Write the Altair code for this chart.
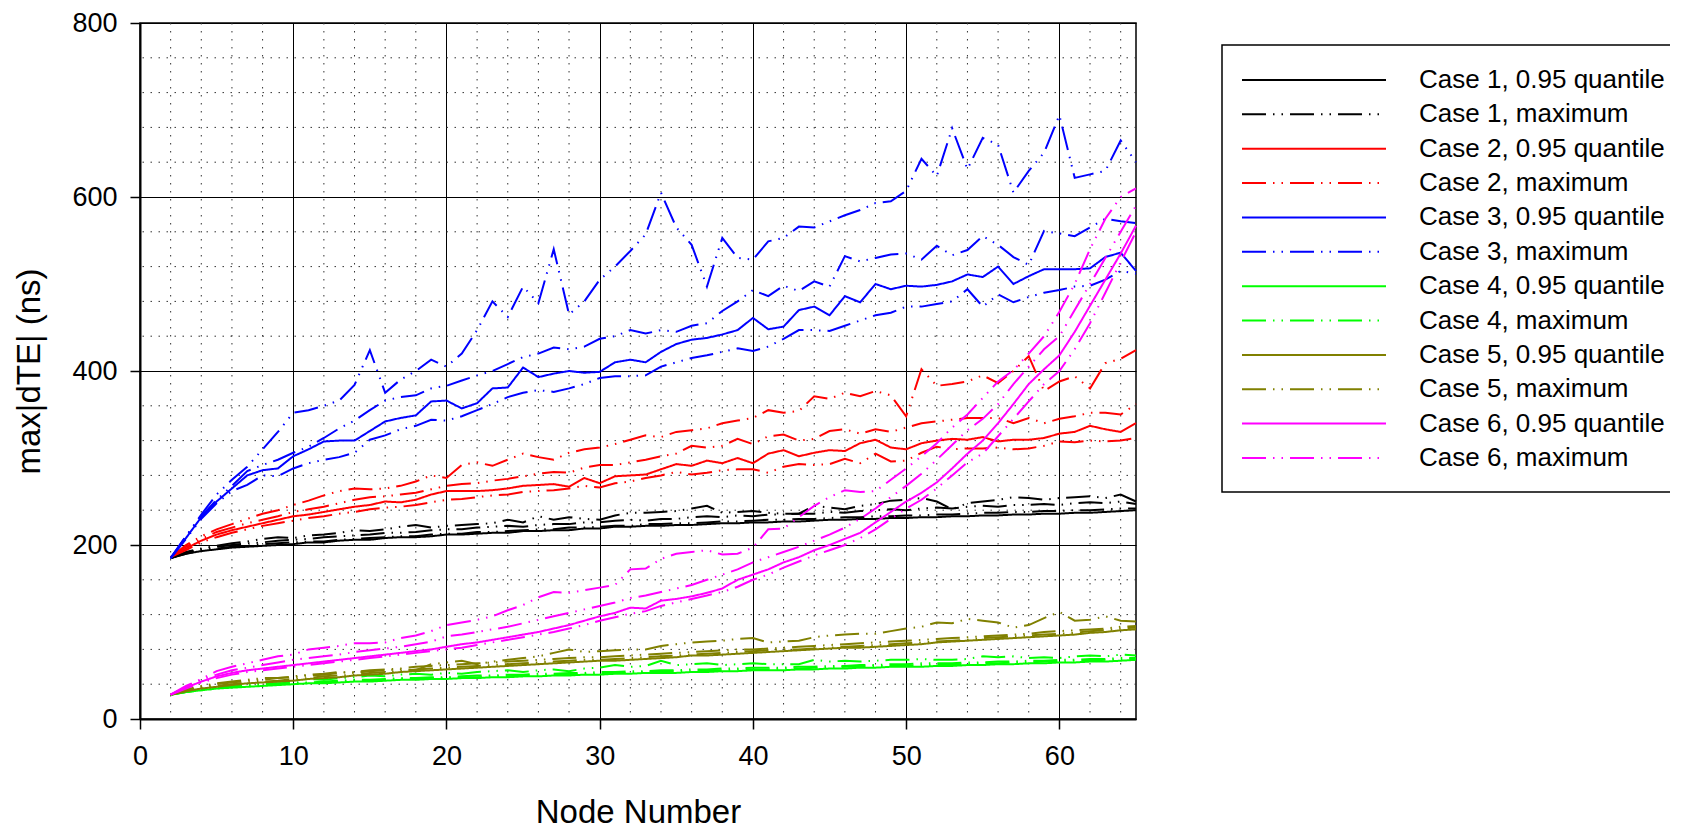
import altair as alt
import pandas as pd

nodes = list(range(2, 66))

case_names = ["Case 1", "Case 2", "Case 3", "Case 4", "Case 5", "Case 6"]
case_colors = ["#000000", "#ff0000", "#0000ff", "#00ff00", "#808000", "#ff00ff"]

# 0.95 quantile, one curve per case (nodes 2..65)
c1_q95 = [185, 190, 193, 195, 197, 198, 199, 200, 201, 203, 203, 205, 206, 206, 208, 209,
          209, 210, 212, 212, 213, 214, 214, 216, 216, 217, 217, 219, 219, 221, 221, 222,
          222, 223, 223, 224, 225, 225, 226, 226, 227, 227, 228, 229, 229, 230, 230, 231,
          231, 232, 232, 233, 233, 234, 234, 235, 235, 236, 236, 237, 237, 238, 239, 240]
c2_q95 = [186, 196, 205, 212, 217, 221, 225, 229, 233, 235, 238, 241, 244, 246, 250, 249,
          252, 258, 262, 262, 262, 263, 265, 268, 269, 270, 267, 277, 271, 279, 280, 281,
          287, 293, 291, 297, 294, 300, 294, 305, 309, 302, 306, 309, 308, 317, 321, 312,
          310, 317, 320, 322, 321, 324, 319, 321, 321, 323, 328, 330, 337, 333, 330, 340]
c3_q95 = [185, 208, 232, 250, 265, 280, 286, 288, 302, 310, 319, 320, 320, 331, 342, 346,
          349, 365, 366, 357, 363, 380, 381, 404, 393, 397, 400, 398, 399, 410, 413, 410,
          422, 431, 436, 438, 442, 447, 461, 448, 451, 470, 474, 464, 486, 479, 500, 494,
          498, 497, 499, 503, 511, 508, 520, 500, 509, 517, 517, 517, 518, 531, 536, 515]
c4_q95 = [28, 31, 33, 35, 36, 37, 38, 39, 40, 41, 41, 42, 43, 43, 44, 45,
          45, 46, 46, 47, 47, 48, 48, 49, 49, 50, 50, 51, 51, 52, 52, 53,
          53, 53, 54, 54, 55, 55, 56, 56, 56, 57, 57, 58, 58, 59, 59, 60,
          60, 60, 61, 61, 62, 62, 63, 63, 64, 64, 65, 65, 66, 66, 67, 68]
c5_q95 = [28, 32, 35, 37, 39, 41, 42, 43, 44, 46, 47, 48, 50, 51, 52, 54,
          55, 56, 57, 58, 59, 60, 61, 62, 63, 64, 65, 66, 67, 67, 68, 69,
          70, 71, 73, 73, 74, 75, 76, 77, 78, 79, 80, 81, 82, 82, 83, 84,
          85, 86, 88, 89, 90, 91, 92, 93, 94, 95, 96, 97, 99, 100, 102, 103]
c6_q95 = [28, 36, 43, 49, 53, 56, 58, 60, 62, 64, 66, 68, 70, 72, 74, 76,
          78, 80, 83, 86, 88, 91, 94, 97, 100, 104, 108, 113, 118, 122, 128, 127,
          136, 138, 141, 145, 150, 160, 166, 172, 180, 186, 194, 200, 207, 214, 226, 238,
          250, 260, 272, 288, 305, 320, 340, 362, 385, 402, 418, 445, 475, 505, 535, 567]

# maximum, three runs per case (nodes 2..65)
c1_max = [
    [185, 192, 196, 199, 202, 204, 207, 209, 208, 211, 212, 214, 217, 216, 218, 221,
     223, 220, 222, 223, 224, 225, 229, 226, 233, 229, 232, 230, 229, 234, 237, 237,
     238, 239, 242, 245, 237, 238, 239, 237, 236, 236, 245, 243, 241, 245, 247, 251,
     252, 254, 250, 241, 248, 250, 252, 255, 254, 252, 254, 255, 256, 254, 258, 250],
    [185, 191, 195, 198, 200, 202, 203, 205, 206, 207, 209, 210, 211, 212, 214, 214,
     215, 217, 218, 218, 220, 221, 222, 221, 223, 224, 224, 226, 226, 228, 229, 228,
     230, 230, 232, 233, 232, 234, 233, 235, 235, 236, 236, 238, 237, 239, 240, 241,
     240, 242, 243, 242, 244, 245, 244, 246, 246, 247, 246, 248, 249, 248, 250, 247],
    [185, 190, 194, 196, 198, 199, 201, 202, 203, 204, 204, 206, 207, 208, 209, 210,
     210, 212, 213, 213, 215, 215, 216, 217, 218, 218, 220, 220, 221, 222, 222, 224,
     224, 225, 225, 226, 227, 227, 228, 229, 229, 230, 230, 231, 232, 232, 233, 233,
     234, 234, 235, 235, 236, 237, 237, 238, 238, 239, 239, 240, 240, 241, 242, 242],
]
c2_max = [
    [186, 200, 210, 218, 224, 230, 236, 240, 246, 251, 257, 262, 265, 264, 265, 268,
     273, 280, 277, 292, 295, 291, 298, 305, 301, 298, 306, 310, 312, 316, 321, 326,
     324, 330, 332, 334, 340, 343, 346, 355, 352, 354, 371, 368, 375, 371, 377, 372,
     348, 402, 383, 385, 388, 395, 386, 400, 417, 377, 388, 394, 380, 409, 414, 424],
    [186, 198, 207, 215, 220, 225, 229, 233, 238, 241, 244, 248, 252, 255, 256, 258,
     260, 264, 268, 270, 271, 274, 276, 279, 282, 284, 283, 289, 292, 292, 295, 298,
     302, 305, 314, 312, 314, 322, 316, 325, 327, 320, 322, 331, 333, 328, 333, 330,
     335, 340, 342, 344, 346, 346, 346, 340, 346, 340, 345, 348, 352, 352, 350, 362],
    [186, 194, 203, 209, 214, 218, 222, 225, 228, 231, 233, 236, 238, 241, 243, 244,
     246, 249, 252, 253, 255, 257, 258, 261, 262, 263, 265, 268, 266, 271, 273, 277,
     280, 284, 281, 283, 286, 287, 287, 283, 290, 293, 292, 293, 299, 294, 305, 296,
     297, 306, 313, 310, 311, 311, 312, 310, 311, 314, 319, 318, 320, 319, 320, 323],
]
c3_max = [
    [185, 210, 235, 258, 275, 290, 310, 330, 352, 355, 360, 366, 384, 424, 375, 390,
     400, 413, 405, 420, 447, 480, 462, 497, 478, 540, 465, 480, 505, 520, 538, 557,
     605, 565, 545, 497, 553, 530, 528, 549, 553, 566, 565, 572, 579, 585, 593, 595,
     607, 644, 624, 679, 632, 668, 660, 605, 630, 651, 694, 622, 626, 630, 665, 640],
    [185, 210, 233, 252, 268, 285, 292, 298, 306, 313, 323, 334, 343, 355, 366, 370,
     372, 380, 383, 389, 395, 400, 408, 416, 420, 427, 425, 428, 437, 440, 447, 443,
     447, 445, 452, 455, 469, 480, 493, 486, 498, 492, 503, 497, 532, 526, 530, 534,
     535, 528, 544, 533, 539, 555, 545, 531, 522, 561, 558, 555, 565, 575, 572, 570],
    [185, 207, 230, 248, 262, 269, 280, 279, 288, 294, 298, 301, 306, 321, 326, 333,
     337, 344, 343, 348, 355, 362, 370, 375, 378, 376, 380, 385, 392, 394, 394, 395,
     405, 410, 415, 418, 422, 426, 423, 428, 437, 447, 447, 446, 452, 458, 464, 467,
     474, 474, 477, 480, 494, 474, 488, 479, 485, 490, 493, 497, 498, 505, 515, 512],
]
c4_max = [
    [28, 32, 35, 37, 39, 40, 42, 43, 44, 46, 45, 47, 48, 50, 49, 51,
     52, 51, 53, 52, 54, 55, 56, 54, 56, 57, 55, 58, 59, 62, 60, 61,
     67, 62, 63, 64, 62, 63, 64, 63, 63, 63, 68, 66, 67, 66, 67, 68,
     68, 69, 68, 68, 69, 72, 71, 72, 70, 71, 70, 72, 73, 72, 74, 73],
    [28, 31, 34, 36, 37, 39, 40, 41, 42, 42, 43, 44, 45, 45, 46, 47,
     47, 48, 48, 49, 50, 50, 51, 51, 52, 52, 53, 53, 54, 54, 55, 55,
     56, 56, 57, 57, 58, 58, 59, 59, 59, 60, 60, 61, 61, 62, 62, 63,
     63, 64, 64, 64, 65, 65, 66, 66, 67, 67, 68, 68, 69, 69, 70, 70],
    [28, 31, 33, 35, 37, 38, 39, 40, 41, 41, 42, 43, 44, 44, 45, 46,
     46, 47, 47, 48, 48, 49, 49, 50, 50, 51, 51, 52, 52, 53, 53, 54,
     54, 55, 55, 56, 56, 57, 57, 57, 58, 58, 59, 59, 60, 60, 61, 61,
     61, 62, 62, 63, 63, 64, 64, 65, 65, 66, 66, 67, 67, 68, 68, 69],
]
c5_max = [
    [28, 34, 38, 41, 43, 45, 47, 47, 49, 51, 52, 54, 53, 55, 56, 57,
     56, 63, 65, 67, 63, 66, 68, 70, 72, 76, 80, 77, 78, 79, 80, 80,
     84, 86, 88, 89, 90, 92, 93, 88, 89, 90, 94, 96, 97, 98, 98, 101,
     104, 106, 111, 110, 115, 113, 111, 105, 108, 116, 123, 113, 114, 118, 113, 112],
    [28, 33, 37, 40, 42, 44, 45, 47, 48, 50, 51, 53, 54, 56, 57, 58,
     60, 61, 62, 63, 64, 65, 66, 67, 68, 69, 70, 71, 71, 72, 73, 74,
     75, 76, 77, 78, 79, 80, 80, 81, 82, 83, 84, 85, 86, 87, 88, 89,
     90, 91, 92, 93, 94, 95, 96, 97, 98, 100, 101, 102, 103, 104, 106, 107],
    [28, 32, 36, 38, 40, 42, 43, 44, 46, 47, 49, 50, 51, 53, 54, 55,
     57, 58, 59, 60, 61, 62, 63, 64, 65, 66, 67, 68, 68, 69, 70, 71,
     72, 73, 74, 75, 76, 77, 78, 79, 80, 80, 81, 82, 83, 84, 85, 86,
     87, 88, 89, 90, 91, 93, 94, 95, 96, 97, 98, 99, 101, 102, 104, 105],
]
c6_max = [
    [28, 38, 46, 55, 60, 64, 68, 72, 74, 80, 82, 84, 87, 87, 88, 93,
     96, 101, 108, 111, 114, 118, 125, 131, 140, 146, 145, 148, 151, 154, 172, 173,
     184, 190, 192, 194, 189, 190, 197, 218, 219, 232, 245, 255, 263, 261, 262, 275,
     288, 302, 317, 335, 350, 369, 388, 401, 420, 440, 468, 500, 540, 575, 600, 610],
    [28, 37, 45, 51, 56, 59, 62, 65, 68, 70, 72, 74, 77, 79, 81, 83,
     86, 89, 95, 97, 100, 103, 106, 110, 114, 118, 122, 126, 130, 134, 139, 142,
     146, 150, 154, 160, 166, 172, 180, 186, 192, 198, 205, 212, 220, 230, 242, 255,
     268, 282, 298, 315, 332, 345, 362, 385, 405, 425, 440, 470, 500, 530, 560, 590],
    [28, 35, 42, 47, 51, 54, 56, 58, 60, 62, 64, 66, 68, 70, 72, 74,
     76, 78, 80, 82, 85, 88, 91, 94, 97, 100, 104, 108, 113, 117, 121, 124,
     130, 134, 138, 142, 146, 152, 160, 166, 174, 181, 188, 194, 200, 208, 218, 230,
     242, 252, 265, 280, 295, 305, 325, 345, 365, 385, 400, 425, 455, 490, 525, 560],
]

x_ticks = [0, 10, 20, 30, 40, 50, 60]
y_ticks = [0, 200, 400, 600, 800]
x_minor = [2, 4, 6, 8, 12, 14, 16, 18, 22, 24, 26, 28, 32, 34, 36, 38,
           42, 44, 46, 48, 52, 54, 56, 58, 62, 64]
y_minor = [40, 80, 120, 160, 240, 280, 320, 360, 440, 480, 520, 560, 640, 680, 720, 760]

q95_lines = [c1_q95, c2_q95, c3_q95, c4_q95, c5_q95, c6_q95]
max_lines = [c1_max, c2_max, c3_max, c4_max, c5_max, c6_max]

series = []
series_colors = []
for name, col in zip(case_names, case_colors):
    series += [f"{name}, 0.95 quantile", f"{name}, maximum"]
    series_colors += [col, col]

rows = []
for name, q, mx in zip(case_names, q95_lines, max_lines):
    for n, v in zip(nodes, q):
        rows.append({"node": n, "value": v, "series": f"{name}, 0.95 quantile",
                     "kind": "q95", "line": f"{name} q95"})
    for i, run in enumerate(mx):
        for n, v in zip(nodes, run):
            rows.append({"node": n, "value": v, "series": f"{name}, maximum",
                         "kind": "max", "line": f"{name} max {i}"})
df = pd.DataFrame(rows)

FONT = "Liberation Sans"
dash_max = [24, 7, 1.5, 7, 1.5, 7]

color_scale = alt.Scale(domain=series, range=series_colors)
dash_scale = alt.Scale(domain=["q95", "max"], range=[[1, 0], dash_max])
x_scale = alt.Scale(domain=[0, 65], nice=False)
y_scale = alt.Scale(domain=[0, 800], nice=False)

x_axis = alt.Axis(values=x_ticks, title="Node Number", labelFlush=False,
                  labelPadding=14, titlePadding=27)
y_axis = alt.Axis(values=y_ticks, title="max|dTE| (ns)",
                  labelPadding=13, titlePadding=25)

minor_x = alt.Chart(pd.DataFrame({"node": x_minor})).mark_rule(
    color="#333333", strokeWidth=1, strokeDash=[1.5, 6.5]
).encode(x=alt.X("node:Q", scale=x_scale, axis=x_axis))

minor_y = alt.Chart(pd.DataFrame({"value": y_minor})).mark_rule(
    color="#333333", strokeWidth=1, strokeDash=[1.5, 6.5]
).encode(y=alt.Y("value:Q", scale=y_scale, axis=y_axis))

lines = alt.Chart(df).mark_line(strokeWidth=2).encode(
    x=alt.X("node:Q", scale=x_scale, axis=x_axis),
    y=alt.Y("value:Q", scale=y_scale, axis=y_axis),
    color=alt.Color("series:N", scale=color_scale, legend=None),
    strokeDash=alt.StrokeDash("kind:N", scale=dash_scale, legend=None),
    detail="line:N",
    order="node:Q",
)

main = alt.layer(minor_x, minor_y, lines).properties(
    width=996, height=696,
    view=alt.ViewBackground(stroke="black", strokeWidth=1.5),
)

# hand-drawn legend panel
legend_df = pd.DataFrame({
    "series": series,
    "row": list(range(len(series))),
    "kind": ["q95", "max"] * len(case_names),
})
legend_y = alt.Y("row:Q", scale=alt.Scale(domain=[-1.659, 18.597], reverse=True), axis=None)

box = alt.Chart(pd.DataFrame({"b": [0]})).mark_rect(
    fill="white", stroke="black", strokeWidth=1.5, clip=True
).encode(x=alt.value(1), x2=alt.value(700), y=alt.value(22), y2=alt.value(469))

legend_lines = alt.Chart(legend_df).mark_rule(strokeWidth=2).encode(
    x=alt.value(21), x2=alt.value(165), y=legend_y,
    color=alt.Color("series:N", scale=color_scale, legend=None),
    strokeDash=alt.StrokeDash("kind:N", scale=dash_scale, legend=None),
)

legend_text = alt.Chart(legend_df).mark_text(
    align="left", baseline="middle", fontSize=26, font=FONT, color="black"
).encode(x=alt.value(198), y=legend_y, text="series:N")

legend = alt.layer(box, legend_lines, legend_text).properties(
    width=449, height=696,
    view=alt.ViewBackground(stroke="transparent"),
)

chart = alt.hconcat(main, legend, spacing=85, bounds="flush").properties(
    padding={"left": 5, "top": 0, "right": 0, "bottom": 0},
    background="white",
).configure_axis(
    grid=True, gridColor="black", gridWidth=1, gridOpacity=1,
    tickSize=10, tickColor="black", tickWidth=1.5,
    domainColor="black", domainWidth=2,
    labelFont=FONT, labelFontSize=27, labelColor="black",
    titleFont=FONT, titleFontSize=33, titleFontWeight="normal", titleColor="black",
).configure_view(stroke="transparent")

chart.save("out.html", embed_options={"renderer": "svg", "actions": False})
